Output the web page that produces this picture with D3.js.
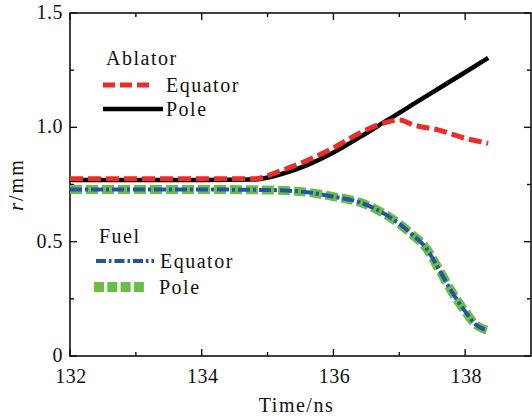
<!DOCTYPE html>
<html lang="en">
<head>
    <meta charset="UTF-8">
    <title>r vs time</title>
    <script src="https://cdn.jsdelivr.net/npm/d3@7"></script>
    <style>
        body { margin: 0; background: #fff; }
        text { font-family: "Liberation Serif", "Times New Roman", serif; fill: #111; }
    </style>
</head>
<body>

<div id="chart"></div>

<script>
    // ablator radius (mm) vs time (ns)
    var ablatorTime = [132, 133, 134, 134.8, 135.2, 135.6, 136, 136.4, 136.8, 137, 137.2, 137.6, 138, 138.35];
    var ablatorEquator = [0.775, 0.775, 0.775, 0.775, 0.81, 0.855, 0.91, 0.975, 1.022, 1.032, 1.012, 0.988, 0.952, 0.93];
    var ablatorPole = [0.77, 0.77, 0.77, 0.772, 0.795, 0.835, 0.89, 0.957, 1.028, 1.063, 1.099, 1.17, 1.241, 1.304];

    // fuel radius (mm) vs time (ns)
    var fuelTime = [132, 133, 134, 135, 135.6, 136, 136.4, 136.8, 137, 137.2, 137.4, 137.6, 137.8, 138, 138.15, 138.33];
    var fuelEquator = [0.728, 0.728, 0.728, 0.726, 0.716, 0.697, 0.672, 0.617, 0.578, 0.53, 0.475, 0.38, 0.28, 0.195, 0.14, 0.113];
    var fuelPole = [0.728, 0.728, 0.728, 0.726, 0.716, 0.697, 0.672, 0.617, 0.578, 0.53, 0.475, 0.38, 0.28, 0.195, 0.14, 0.113];

    var xTicks = [132, 134, 136, 138];
    var xMinor = [133, 135, 137];
    var yTicks = [0, 0.5, 1.0, 1.5];
    var yMinor = [0.25, 0.75, 1.25];

    var W = 532, H = 419;
    var pL = 70, pR = 531, pT = 13, pB = 356;

    var svg = d3.select("#chart").append("svg")
        .attr("width", W)
        .attr("height", H);

    var x = d3.scaleLinear().domain([132, 139]).range([pL, pR]);
    var y = d3.scaleLinear().domain([0, 1.5]).range([pB, pT]);

    // frame
    svg.append("rect")
        .attr("x", pL).attr("y", pT)
        .attr("width", pR - pL).attr("height", pB - pT)
        .attr("fill", "none").attr("stroke", "#111").attr("stroke-width", 1.6);

    // ticks, all pointing inward
    function tickLines(vals, len, isX) {
        vals.forEach(function (v) {
            if (isX) {
                svg.append("line").attr("x1", x(v)).attr("x2", x(v)).attr("y1", pB).attr("y2", pB - len)
                    .attr("stroke", "#111").attr("stroke-width", 1.4);
                svg.append("line").attr("x1", x(v)).attr("x2", x(v)).attr("y1", pT).attr("y2", pT + len)
                    .attr("stroke", "#111").attr("stroke-width", 1.4);
            } else {
                svg.append("line").attr("x1", pL).attr("x2", pL + len).attr("y1", y(v)).attr("y2", y(v))
                    .attr("stroke", "#111").attr("stroke-width", 1.4);
                svg.append("line").attr("x1", pR).attr("x2", pR - len).attr("y1", y(v)).attr("y2", y(v))
                    .attr("stroke", "#111").attr("stroke-width", 1.4);
            }
        });
    }
    tickLines(xTicks, 7, true);
    tickLines(xMinor, 4, true);
    tickLines(yTicks, 7, false);
    tickLines(yMinor, 4, false);

    // tick labels
    svg.selectAll(".xl").data(xTicks).enter().append("text")
        .attr("x", function (d) { return x(d) + 1; })
        .attr("y", pB + 27)
        .attr("text-anchor", "middle")
        .style("font-size", "20px")
        .style("letter-spacing", "0.5px")
        .text(function (d) { return d; });

    svg.selectAll(".yl").data(yTicks).enter().append("text")
        .attr("x", pL - 7)
        .attr("y", function (d) { return y(d) + 6; })
        .attr("text-anchor", "end")
        .style("font-size", "20px")
        .style("letter-spacing", "0.5px")
        .text(function (d) { return d === 0 ? "0" : d3.format(".1f")(d); });

    // axis titles
    svg.append("text")
        .attr("x", (pL + pR) / 2 - 4)
        .attr("y", 412)
        .attr("text-anchor", "middle")
        .style("font-size", "20px")
        .style("letter-spacing", "1.5px")
        .text("Time/ns");

    var yt = svg.append("text")
        .attr("transform", "translate(23," + ((pT + pB) / 2) + ") rotate(-90)")
        .attr("text-anchor", "middle")
        .style("font-size", "20px")
        .style("letter-spacing", "2px");
    yt.append("tspan").style("font-style", "italic").text("r");
    yt.append("tspan").text("/mm");

    // series
    function lineFor(times) {
        return d3.line()
            .x(function (d, i) { return x(times[i]); })
            .y(function (d) { return y(d); })
            .curve(d3.curveMonotoneX);
    }

    var styles = {
        ablPole: { color: "#000000", width: 4.5, dash: null },
        ablEq: { color: "#ee2b2b", width: 5, dash: "13,5" },
        fuelPole: { color: "#6cbd45", width: 9, dash: "12,4" },
        fuelEq: { color: "#2255a8", width: 4, dash: "12,3,3,3" }
    };

    function draw(times, vals, st) {
        svg.append("path")
            .datum(vals)
            .attr("d", lineFor(times))
            .attr("fill", "none")
            .attr("stroke", st.color)
            .attr("stroke-width", st.width)
            .attr("stroke-dasharray", st.dash);
    }

    draw(fuelTime, fuelPole, styles.fuelPole);
    draw(fuelTime, fuelEquator, styles.fuelEq);
    draw(ablatorTime, ablatorPole, styles.ablPole);
    draw(ablatorTime, ablatorEquator, styles.ablEq);

    // legends
    function legendItem(x1, x2, ly, tx, label, st) {
        svg.append("line")
            .attr("x1", x1).attr("x2", x2).attr("y1", ly).attr("y2", ly)
            .attr("stroke", st.color)
            .attr("stroke-width", st.width)
            .attr("stroke-dasharray", st.dash);
        svg.append("text")
            .attr("x", tx).attr("y", ly + 7)
            .style("font-size", "20px")
            .style("letter-spacing", "1.5px")
            .text(label);
    }

    svg.append("text").attr("x", 106).attr("y", 65)
        .style("font-size", "20px").style("letter-spacing", "1.5px").text("Ablator");
    legendItem(103, 150, 85, 166, "Equator", { color: styles.ablEq.color, width: 5, dash: "12,5" });
    legendItem(103, 163, 109, 166, "Pole", styles.ablPole);

    svg.append("text").attr("x", 99).attr("y", 243)
        .style("font-size", "20px").style("letter-spacing", "1.5px").text("Fuel");
    legendItem(96, 154, 261, 160, "Equator", { color: styles.fuelEq.color, width: 4, dash: "10,3,2.5,3" });
    legendItem(94, 145, 287, 159, "Pole", { color: styles.fuelPole.color, width: 10, dash: "10,3.3" });
</script>

</body>
</html>
